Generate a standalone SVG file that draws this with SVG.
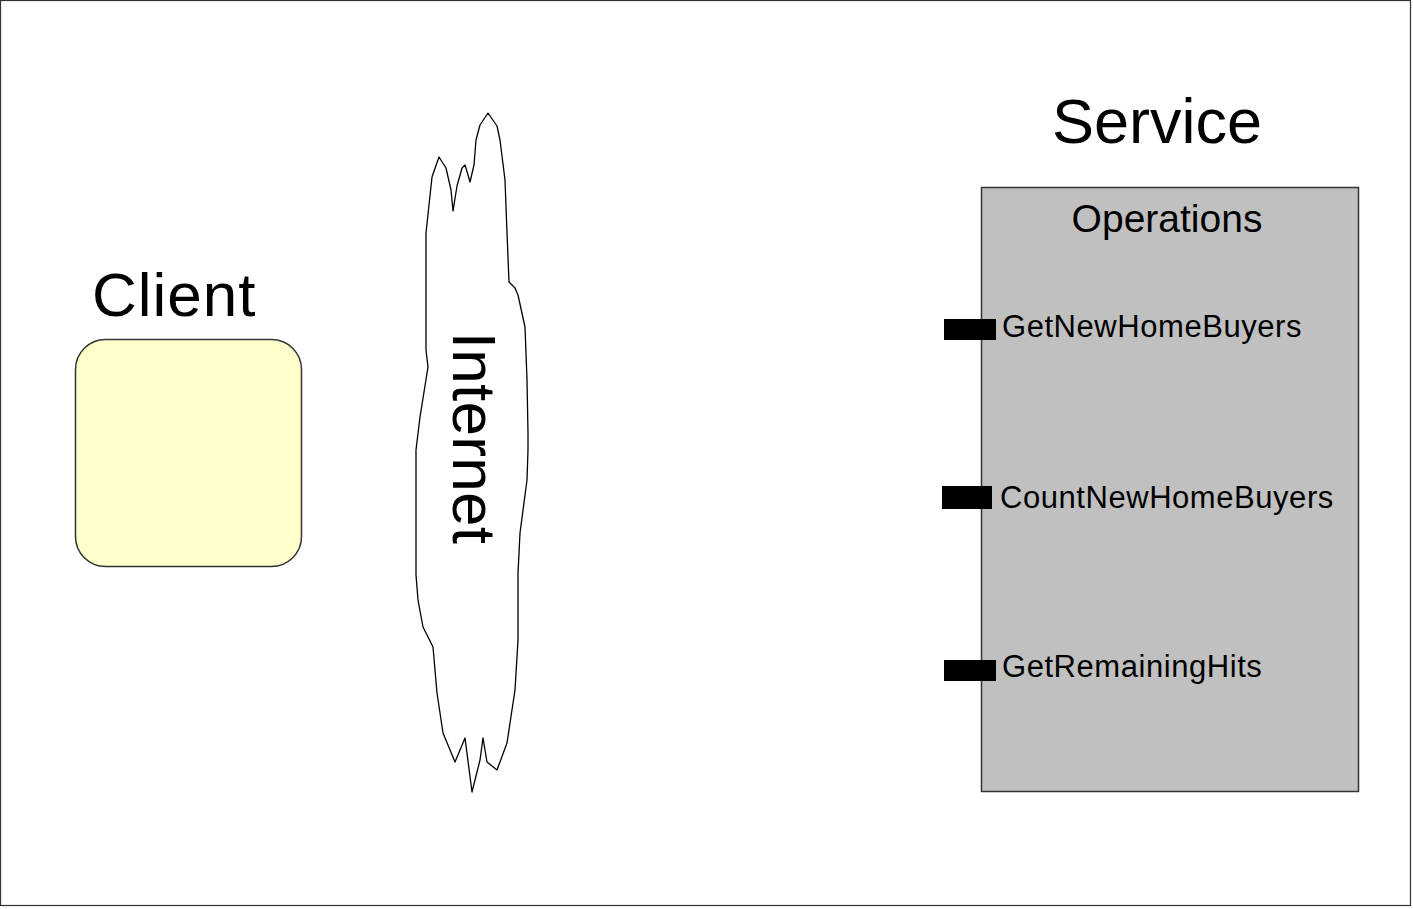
<svg xmlns="http://www.w3.org/2000/svg" width="1413" height="909" viewBox="0 0 1413 909">
<style>
text{font-family:"Liberation Sans",Arial,sans-serif;fill:#000}
.big{font-size:62px}
.op{font-size:31px;letter-spacing:0.55px}
.port{fill:#000}
</style>
<rect x="0" y="0" width="1413" height="909" fill="#fff"/>
<rect x="0.5" y="0.5" width="1410" height="905" fill="none" stroke="#333" stroke-width="1.2"/>
<g id="client">
<text class="big" x="92" y="316" style="letter-spacing:1px">Client</text>
<rect x="75.5" y="339.5" width="226" height="227" rx="30" ry="30" fill="#ffffcc" stroke="#333" stroke-width="1.5"/>
</g>
<g id="internet">
<path d="M488,113 L497,126 L500,140 L505,180 L507,233 L509,282 L515,288 L518,295 L525,327 L527,380 L528,433 L528,450 L527,480 L520,533 L518,573 L518,640 L515,690 L507,743 L497,770 L487,762 L483,738 L480,760 L472,792 L465,738 L455,762 L443,733 L437,693 L433,647 L423,627 L418,600 L416,575 L416,450 L420,417 L428,367 L426,350 L426,233 L432,177 L439,157 L446,168 L451,190 L453,211 L457,186 L462,168 L465,165 L468,175 L470,182 L474,165 L476,140 L480,125 Z" fill="#fff" stroke="#000" stroke-width="1.3" stroke-linejoin="round"/>
<text class="big" transform="translate(453,438) rotate(90)" text-anchor="middle" x="0" y="0" style="letter-spacing:0.3px">Internet</text>
</g>
<g id="service">
<text class="big" x="1157" y="143" text-anchor="middle" style="font-size:63px">Service</text>
<rect x="981.5" y="187.5" width="377" height="604" fill="#c0c0c0" stroke="#333" stroke-width="1.5"/>
<text x="1167" y="232" text-anchor="middle" style="font-size:39px">Operations</text>
</g>
<g id="op-getnewhomebuyers">
<rect class="port" x="944" y="319" width="52" height="21"/>
<text class="op" x="1002" y="337">GetNewHomeBuyers</text>
</g>
<g id="op-countnewhomebuyers">
<rect class="port" x="942" y="486" width="50" height="23"/>
<text class="op" x="1000" y="508">CountNewHomeBuyers</text>
</g>
<g id="op-getremaininghits">
<rect class="port" x="944" y="660" width="52" height="21"/>
<text class="op" x="1002" y="677">GetRemainingHits</text>
</g>
<g id="connectors"></g>
</svg>
